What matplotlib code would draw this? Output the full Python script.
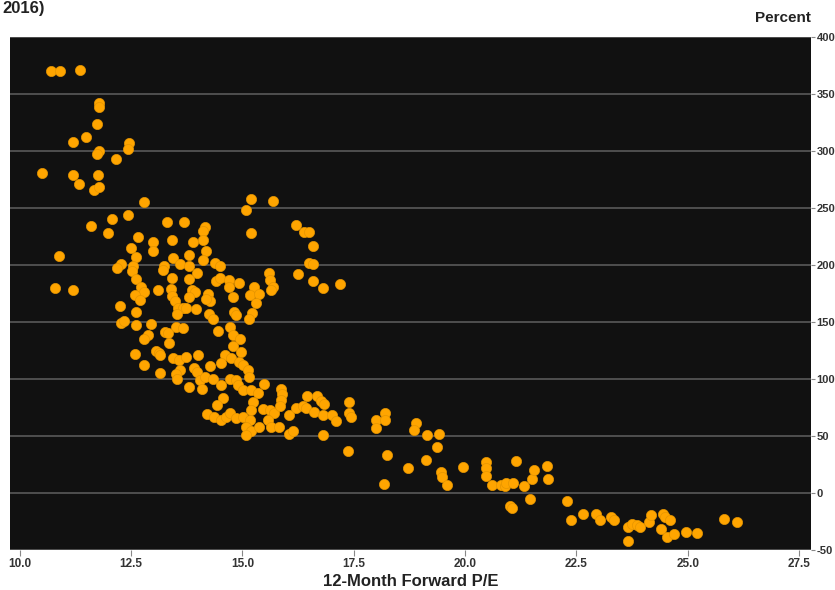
import matplotlib
matplotlib.use("Agg")
import matplotlib.pyplot as plt

plt.rcParams['font.family'] = ['Liberation Sans', 'DejaVu Sans']

# 12-month forward P/E
pe = [10.71, 10.91, 11.36, 11.77, 11.77, 11.74, 11.49, 11.19, 12.45, 12.43,
      11.79, 11.74, 12.15, 10.49, 11.19, 11.76, 11.32, 11.67, 11.78, 12.79,
      12.42, 12.06, 11.61, 11.98, 13.30, 13.68, 14.15, 14.11, 12.65, 13.00,
      13.41, 13.88, 14.12, 12.50, 13.00, 13.79, 14.19, 10.88, 12.62, 13.45,
      15.20, 15.69, 15.09, 15.20, 16.20, 16.39, 16.50, 16.59, 12.28, 12.19,
      12.55, 12.52, 13.24, 13.21, 13.59, 13.79, 14.11, 14.39, 14.50, 12.61,
      13.41, 13.99, 13.79, 14.41, 14.50, 14.70, 14.70, 14.93, 15.59, 15.61,
      15.68, 15.65, 16.24, 16.49, 16.58, 16.59, 16.80, 17.20, 10.78, 11.19,
      12.73, 12.80, 13.11, 13.39, 13.41, 13.87, 13.94, 12.59, 13.79, 14.23,
      14.27, 14.18, 14.79, 15.27, 15.18, 15.38, 15.30, 12.69, 12.26, 13.48,
      13.55, 13.66, 13.74, 13.53, 13.96, 14.24, 14.33, 14.82, 14.86, 15.21,
      15.15, 12.60, 12.28, 12.33, 12.62, 12.94, 13.50, 13.67, 14.45, 14.71,
      13.25, 13.32, 12.87, 12.79, 13.35, 14.79, 14.94, 14.78, 12.59, 13.05,
      13.13, 13.16, 13.43, 13.58, 13.74, 14.00, 14.60, 14.75, 14.97, 14.93,
      15.01, 14.52, 12.79, 13.15, 13.59, 13.50, 13.53, 13.91, 13.97, 14.05,
      14.28, 14.17, 14.34, 14.73, 14.85, 14.89, 15.12, 15.14, 14.52, 13.80,
      14.10, 15.01, 15.20, 15.34, 15.49, 15.87, 15.90, 14.57, 14.42, 14.20,
      14.37, 14.52, 14.63, 14.71, 14.86, 15.01, 15.16, 15.08, 15.20, 15.08,
      15.38, 15.23, 15.20, 15.47, 15.63, 15.72, 15.57, 15.64, 15.83, 15.87,
      15.85, 16.05, 16.05, 16.13, 16.20, 16.35, 16.43, 16.46, 16.67, 16.76,
      16.83, 16.61, 16.80, 16.82, 17.02, 17.11, 17.40, 17.40, 17.44, 17.38,
      18.00, 18.00, 18.21, 18.21, 18.89, 18.86, 19.15, 19.41, 19.36, 18.24,
      18.17, 18.72, 19.12, 19.47, 19.48, 19.59, 19.96, 20.47, 20.48, 20.48,
      20.60, 20.80, 20.89, 20.93, 21.08, 21.15, 21.33, 21.45, 21.51, 21.54,
      21.85, 21.87, 21.00, 21.06, 22.29, 22.39, 22.65, 22.94, 23.02, 23.28,
      23.34, 23.65, 23.66, 23.74, 23.86, 23.92, 24.13, 24.18, 24.39, 24.44,
      24.48, 24.61, 24.54, 24.69, 24.96, 25.22, 25.81, 26.11]

# Subsequent return, percent
ret = [370, 370, 371, 342, 339, 324, 312, 308, 307, 302,
       300, 297, 293, 281, 279, 279, 271, 266, 268, 255,
       244, 240, 234, 228, 238, 238, 233, 230, 225, 220,
       222, 220, 222, 215, 212, 209, 212, 208, 207, 206,
       258, 256, 248, 228, 235, 229, 229, 217, 201, 197,
       199, 195, 199, 196, 201, 199, 204, 202, 199, 188,
       189, 193, 188, 186, 189, 187, 181, 184, 193, 187,
       181, 178, 192, 202, 201, 186, 180, 183, 180, 178,
       181, 176, 178, 179, 173, 178, 176, 174, 172, 175,
       168, 170, 172, 181, 174, 175, 167, 169, 164, 168,
       162, 162, 162, 157, 161, 157, 153, 159, 156, 158,
       153, 159, 149, 151, 147, 148, 146, 145, 142, 146,
       141, 140, 139, 135, 132, 139, 135, 129, 122, 125,
       123, 121, 118, 117, 119, 121, 121, 118, 124, 115,
       112, 114, 112, 105, 108, 104, 100, 110, 106, 99,
       111, 102, 100, 100, 99, 95, 108, 102, 95, 93,
       91, 90, 90, 88, 96, 91, 87, 83, 77, 69,
       67, 64, 67, 70, 66, 67, 64, 58, 54, 51,
       58, 80, 73, 74, 73, 70, 64, 58, 58, 82,
       76, 68, 52, 54, 75, 76, 75, 85, 85, 81,
       78, 71, 68, 51, 68, 63, 80, 70, 67, 37,
       64, 57, 70, 64, 61, 55, 51, 52, 40, 33,
       8, 22, 29, 18, 14, 7, 23, 27, 22, 15,
       7, 7, 6, 9, 9, 28, 6, -5, 12, 20,
       24, 12, -11, -13, -7, -24, -18, -18, -24, -21,
       -24, -42, -30, -27, -28, -30, -25, -19, -32, -18,
       -21, -24, -39, -36, -34, -35, -23, -25]

x_ticks = [10.0, 12.5, 15.0, 17.5, 20.0, 22.5, 25.0, 27.5]
y_ticks = [-50, 0, 50, 100, 150, 200, 250, 300, 350, 400]

fig = plt.figure(figsize=(8.35, 5.90), dpi=100)
ax = fig.add_axes([10/835, 1 - 550/590, 801/835, 513/590])
ax.set_facecolor('#111111')

ax.scatter(pe, ret, s=54, color='#FFA500', edgecolors='#E69500',
           linewidths=0.5, zorder=3)

ax.set_xlim(9.78, 27.77)
ax.set_ylim(-50, 400)
ax.set_xticks(x_ticks)
ax.set_xticklabels([f"{v:.1f}" for v in x_ticks])
ax.set_yticks(y_ticks)
ax.set_yticklabels([str(v) for v in y_ticks])

ax.yaxis.tick_right()
ax.grid(axis='y', color='#5a5a5a', linewidth=1.2, zorder=1)
ax.grid(axis='x', visible=False)
for s in ax.spines.values():
    s.set_visible(False)

ax.tick_params(axis='x', direction='out', length=4, width=0.8,
               color='#888888', labelsize=8.5, pad=2)
ax.tick_params(axis='y', direction='out', length=3, width=0.8,
               color='#888888', labelsize=8, pad=1)
for lab in ax.get_xticklabels() + ax.get_yticklabels():
    lab.set_fontweight('bold')
    lab.set_color('#333333')

ax.set_xlabel("12-Month Forward P/E", fontsize=12, fontweight='bold',
              color='#222222', labelpad=3)

fig.text(811/835, 1 - 18/590, "Percent", ha='right', va='center',
         fontsize=11, fontweight='bold', color='#222222')
fig.text(2/835, 1 - 1/590, "2016)", ha='left', va='top',
         fontsize=12, fontweight='bold', color='#222222')

fig.savefig("out.png", dpi=100, facecolor='white')
